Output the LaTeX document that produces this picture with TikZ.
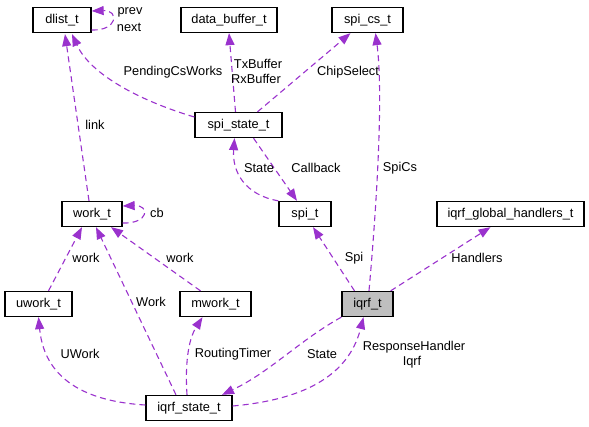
\documentclass[tikz,border=0pt]{standalone}
\usepackage{fontspec}
\setmainfont{Liberation Sans}
\usetikzlibrary{arrows.meta,calc}
\definecolor{edgec}{HTML}{9A32CD}
\definecolor{nodegray}{HTML}{BFBFBF}
\begin{document}
\begin{tikzpicture}[x=1pt,y=-1pt,
  box/.style={draw=black, line width=1.3pt, fill=white, inner sep=0pt, minimum height=25pt, font=\fontsize{12.8}{14}\selectfont},
  edge/.style={draw=edgec, line width=1.1pt, dash pattern=on 6pt off 4pt, -{Triangle[length=12pt,width=9pt]}},
  lbl/.style={inner sep=0pt, font=\fontsize{12.8}{14}\selectfont, align=center}]
\useasboundingbox (0,0) rectangle (589,427);
% nodes
\node[box, minimum width=58pt] (dlist) at (62,20) {dlist\_t};
\node[box, minimum width=96pt] (databuf) at (229,20) {data\_buffer\_t};
\node[box, minimum width=71pt] (spics) at (367.5,20) {spi\_cs\_t};
\node[box, minimum width=87pt] (spistate) at (238.5,125) {spi\_state\_t};
\node[box, minimum width=60pt] (work) at (92,214) {work\_t};
\node[box, minimum width=52pt] (spit) at (305,214) {spi\_t};
\node[box, minimum width=147pt] (handlers) at (510.5,214) {iqrf\_global\_handlers\_t};
\node[box, minimum width=67pt] (uwork) at (38.5,304) {uwork\_t};
\node[box, minimum width=71pt] (mwork) at (215.5,304) {mwork\_t};
\node[box, minimum width=51pt, fill=nodegray] (iqrf) at (367.5,304) {iqrf\_t};
\node[box, minimum width=86pt] (iqrfstate) at (189,408) {iqrf\_state\_t};
% edges
\draw[edge] ($(dlist.east)+(0,10)$) .. controls ($(dlist.east)+(26,11)$) and ($(dlist.east)+(28,-10)$) .. ($(dlist.east)+(0,-9)$);
\draw[edge] ($(work.north)+(-3,0)$) -- ($(dlist.south)+(3,1)$);
\draw[edge] ($(spistate.west)+(0,-8)$) .. controls (150,104) and (92,78) .. ($(dlist.south)+(10,1)$);
\draw[edge] ($(spistate.north)+(-3,0)$) -- (databuf.south);
\draw[edge] ($(spistate.north)+(19,0)$) -- ($(spics.south)+(-17,0)$);
\draw[edge] (spit.north west) .. controls (245,195) and (232,172) .. ($(spistate.south)+(-4,0)$);
\draw[edge] ($(spistate.south)+(15,0)$) -- ($(spit.north)+(-8,0)$);
\draw[edge] ($(work.east)+(0,9)$) .. controls ($(work.east)+(26,10)$) and ($(work.east)+(28,-9)$) .. ($(work.east)+(0,-8)$);
\draw[edge] ($(uwork.north)+(10,0)$) -- ($(work.south)+(-10,0)$);
\draw[edge] ($(mwork.north)+(-15,0)$) -- ($(work.south)+(19,0)$);
\draw[edge] ($(iqrfstate.north)+(-13,0)$) -- ($(work.south)+(4,0)$);
\draw[edge] ($(iqrfstate.west)+(0,-3)$) .. controls (95,402) and (45,385) .. (uwork.south);
\draw[edge] ($(iqrfstate.north)+(-2,0)$) .. controls (185,365) and (188,340) .. ($(mwork.south)+(-13,0)$);
\draw[edge] (iqrf.south west) .. controls (300,340) and (270,372) .. ($(iqrfstate.north)+(33,0)$);
\draw[edge] ($(iqrfstate.east)+(0,-2)$) .. controls (300,400) and (348,378) .. ($(iqrf.south)+(-4,0)$);
\draw[edge] ($(iqrf.north)+(-13,0)$) -- ($(spit.south)+(8,0)$);
\draw[edge] ($(iqrf.north)+(1.5,0)$) .. controls (378,190) and (383,90) .. ($(spics.south)+(8,0)$);
\draw[edge] ($(iqrf.north east)+(-3,0)$) -- ($(handlers.south)+(-20,0)$);
% labels
\node[lbl] (lprev) at (130,12) {prev};
\node[lbl] (lnext) at (129,27) {next};
\node[lbl] (llink) at (95,125) {link};
\node[lbl] (lpend) at (173,72) {PendingCsWorks};
\node[lbl] (ltx) at (258,64) {TxBuffer};
\node[lbl] (lrx) at (256,79) {RxBuffer};
\node[lbl] (lchip) at (348,72) {ChipSelect};
\node[lbl] (lstate1) at (259,168) {State};
\node[lbl] (lcallback) at (316,168) {Callback};
\node[lbl] (lspics) at (400,168) {SpiCs};
\node[lbl] (lcb) at (157,213) {cb};
\node[lbl] (lwork1) at (86,258) {work};
\node[lbl] (lwork2) at (180,258) {work};
\node[lbl] (lspi) at (354,258) {Spi};
\node[lbl] (lhandlers) at (477,258) {Handlers};
\node[lbl] (lWork) at (151,302) {Work};
\node[lbl] (luwork) at (80,354) {UWork};
\node[lbl] (lrouting) at (233,354) {RoutingTimer};
\node[lbl] (lstate2) at (322,354) {State};
\node[lbl] (lresp) at (414,347) {ResponseHandler};
\node[lbl] (liqrf) at (412,362) {Iqrf};
\end{tikzpicture}
\end{document}
